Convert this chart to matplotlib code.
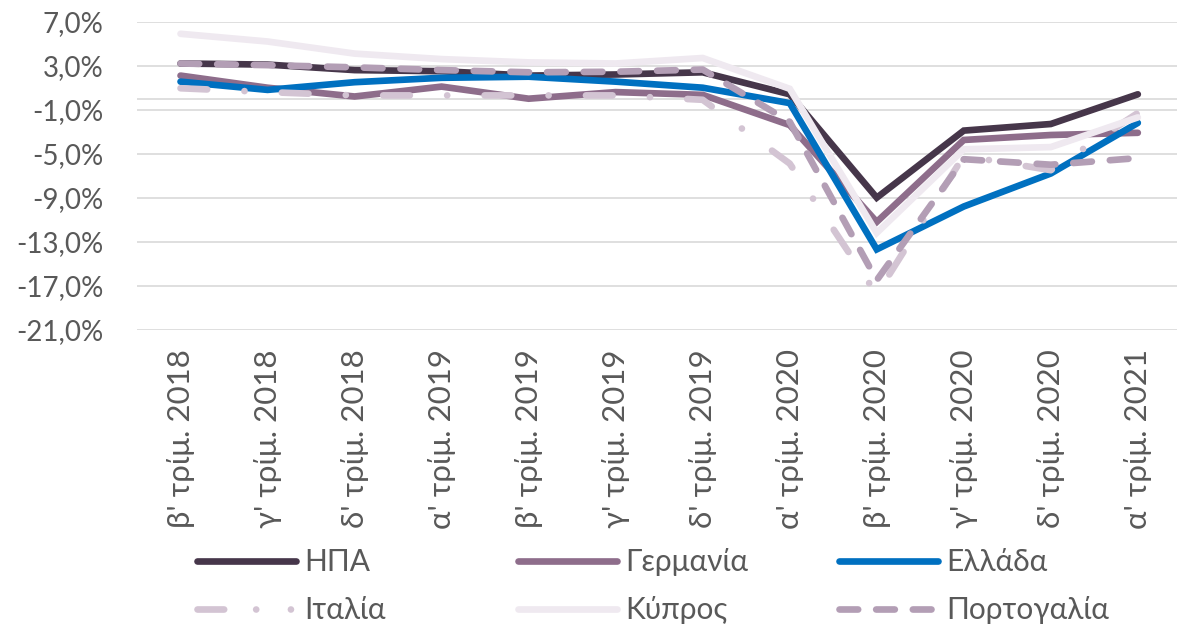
import matplotlib
matplotlib.use("Agg")
import matplotlib.pyplot as plt
from matplotlib.lines import Line2D

plt.rcParams['font.family'] = ['Lato', 'DejaVu Sans']

categories = ["β' τρίμ. 2018", "γ' τρίμ. 2018", "δ' τρίμ. 2018", "α' τρίμ. 2019",
              "β' τρίμ. 2019", "γ' τρίμ. 2019", "δ' τρίμ. 2019", "α' τρίμ. 2020",
              "β' τρίμ. 2020", "γ' τρίμ. 2020", "δ' τρίμ. 2020", "α' τρίμ. 2021"]

usa      = [3.2, 3.1, 2.6, 2.5, 2.1, 2.2, 2.4, 0.4, -9.0, -2.9, -2.3, 0.4]
germany  = [2.1, 1.0, 0.2, 1.1, 0.0, 0.6, 0.35, -2.4, -11.2, -3.75, -3.3, -3.1]
greece   = [1.55, 0.8, 1.5, 1.9, 2.0, 1.55, 1.0, -0.4, -13.7, -9.8, -6.8, -2.2]
italy    = [0.95, 0.6, 0.3, 0.3, 0.3, 0.3, -0.1, -5.9, -17.8, -5.2, -6.5, -1.3]
cyprus   = [5.9, 5.2, 4.1, 3.6, 3.3, 3.2, 3.7, 0.9, -12.2, -4.6, -4.4, -1.7]
portugal = [3.2, 3.05, 2.85, 2.6, 2.4, 2.45, 2.65, -2.1, -16.5, -5.5, -6.0, -5.4]

series_names = ["ΗΠΑ", "Γερμανία", "Ελλάδα", "Ιταλία", "Κύπρος", "Πορτογαλία"]
yticks = [7, 3, -1, -5, -9, -13, -17, -21]
ytick_labels = ["7,0%", "3,0%", "-1,0%", "-5,0%", "-9,0%", "-13,0%", "-17,0%", "-21,0%"]

colors = ["#46364a", "#8e6d8b", "#0070c0", "#d3c4d3", "#efe9f0", "#b39eb5"]
styles = ["-", "-", "-", (0, (4, 5.6, 0.01, 5.6)), "-", (0, (2.8, 2.7))]
legend_styles = ["-", "-", "-", (0, (4, 4.8, 0.01, 5.2, 0.01, 5)), "-", (0, (2.8, 2.7))]
data = [usa, germany, greece, italy, cyprus, portugal]

fig = plt.figure(figsize=(11.77, 6.3), dpi=100)
ax = fig.add_axes([137 / 1177, 1 - 329.7 / 630, 1 - 137 / 1177, (329.7 - 21.7) / 630])

x = list(range(len(categories)))
lw = 4.8
for name, vals, c, ls in zip(series_names, data, colors, styles):
    ax.plot(x, vals, color=c, lw=lw, linestyle=ls, solid_capstyle='round',
            dash_capstyle='round', solid_joinstyle='miter', label=name)

ax.set_ylim(-21, 7)
ax.set_xlim(-0.5, 11.45)
ax.set_yticks(yticks)
ax.set_yticklabels(ytick_labels)
ax.set_xticks(x)
ax.set_xticklabels(categories, rotation=90, va='top', ha='center')
ax.grid(axis='y', color='#d9d9d9', lw=1.2)
ax.set_axisbelow(True)
ax.axhline(0, color='#d9d9d9', lw=1.2, zorder=0.5)
for s in ax.spines.values():
    s.set_visible(False)
ax.tick_params(axis='both', length=0, labelcolor='#595959')
ax.tick_params(axis='y', pad=24, labelsize=20)
ax.tick_params(axis='x', pad=14, labelsize=22.5)

# legend: 2 rows x 3 columns at fixed positions
col_x = [197, 518, 839]
row_y = [562, 610]
for i, (name, c, ls) in enumerate(zip(series_names, colors, legend_styles)):
    r, k = divmod(i, 3)
    h = Line2D([], [], color=c, lw=lw, linestyle=ls, solid_capstyle='round',
               dash_capstyle='round')
    fig.legend(handles=[h], labels=[name], loc='center left',
               bbox_to_anchor=(col_x[k] / 1177, 1 - row_y[r] / 630),
               frameon=False, borderpad=0, borderaxespad=0, handlelength=3.3,
               handletextpad=0.28, fontsize=21.5, labelcolor='#595959')

fig.savefig("out.png", dpi=100)
